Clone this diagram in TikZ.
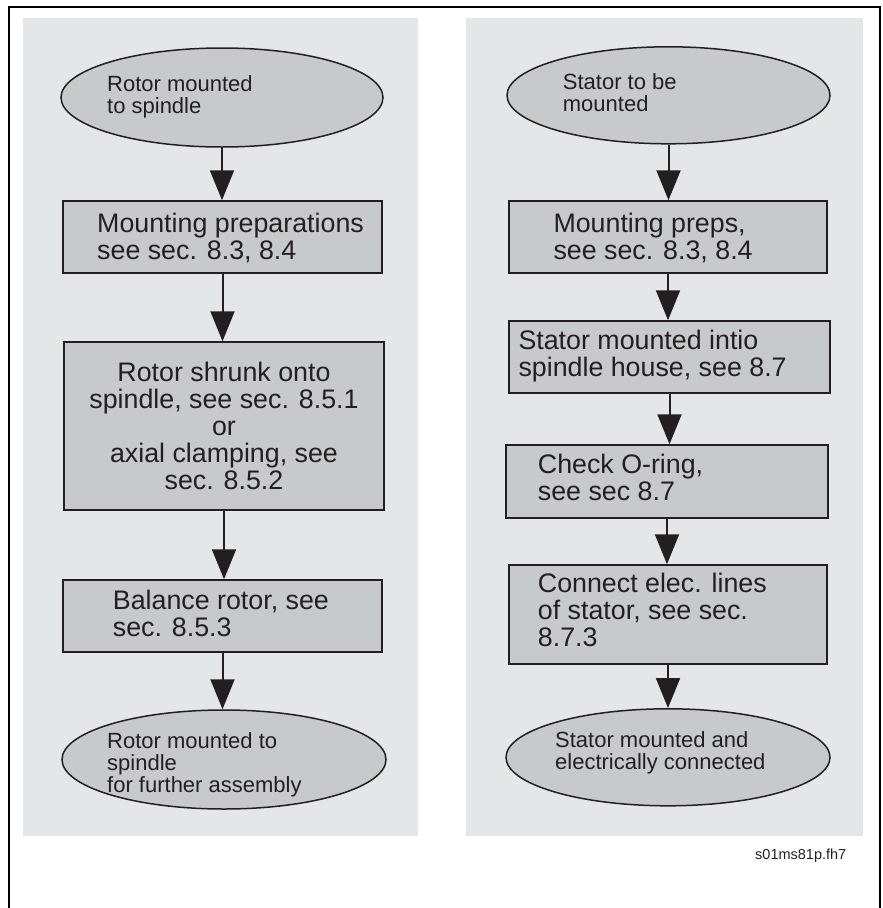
\documentclass[tikz,border=0pt]{standalone}
\usepackage{fontspec}
\setmainfont{Liberation Sans}
\usetikzlibrary{shapes.geometric,arrows.meta}
\definecolor{panel}{RGB}{229,230,232}
\definecolor{nodefill}{RGB}{200,201,203}
\definecolor{ink}{RGB}{35,31,32}
\newcommand{\tsB}{\rule{0pt}{24pt}}
\newcommand{\tsE}{\rule{0pt}{20pt}}
\begin{document}
\begin{tikzpicture}[x=1pt,y=-1pt,
  stepbox/.style={draw=ink, line width=1.5pt, fill=nodefill, inner sep=0pt, rectangle},
  term/.style={draw=ink, line width=1.5pt, fill=nodefill, inner sep=0pt, ellipse},
  boxtext/.style={inner sep=0pt, text=ink, align=left, anchor=north west, font=\fontsize{26.8}{27}\selectfont},
  elltext/.style={inner sep=0pt, text=ink, align=left, anchor=north west, font=\fontsize{22}{22}\selectfont},
  arr/.style={draw=ink, line width=2pt, -{Triangle[width=24pt,length=30pt]}}]
\useasboundingbox (0,0) rectangle (883,908);
% outer frame (open at the bottom)
\draw[black, line width=2pt] (9,910) -- (9,7) -- (880,7) -- (880,910);
% panels
\fill[panel] (23,18) rectangle (418,836);
\fill[panel] (466,18) rectangle (863,836);
% left column
\node[term, minimum width=322pt, minimum height=99pt] (e1) at (222,97.5) {};
\node[stepbox, minimum width=319pt, minimum height=72pt] (b1) at (222.5,237) {};
\node[stepbox, minimum width=320pt, minimum height=168pt] (b2) at (224,426) {};
\node[stepbox, minimum width=319pt, minimum height=72pt] (b3) at (222.5,616) {};
\node[term, minimum width=324pt, minimum height=99pt] (e2) at (224,759.5) {};
\node[elltext] (te1) at (107,71.7) {\tsE Rotor mounted\\to spindle};
\node[boxtext] (tb1) at (97,208) {\tsB Mounting preparations\\see sec. 8.3, 8.4};
\node[boxtext, align=center, anchor=north] (tb2) at (224,357.7) {\tsB Rotor shrunk onto\\spindle, see sec. 8.5.1\\or\\axial clamping, see\\sec. 8.5.2};
\node[boxtext] (tb3) at (112.7,585) {\tsB Balance rotor, see\\sec. 8.5.3};
\node[elltext] (te2) at (107,728.3) {\tsE Rotor mounted to\\spindle\\for further assembly};
% right column
\node[term, minimum width=323pt, minimum height=97pt] (e3) at (668.5,95.3) {};
\node[stepbox, minimum width=318pt, minimum height=72pt] (r1) at (668,237) {};
\node[stepbox, minimum width=321pt, minimum height=72pt] (r2) at (669.5,357) {};
\node[stepbox, minimum width=322pt, minimum height=73pt] (r3) at (667,481.5) {};
\node[stepbox, minimum width=318pt, minimum height=99pt] (r4) at (668,614.5) {};
\node[term, minimum width=324pt, minimum height=97pt] (e4) at (668,757.3) {};
\node[elltext] (te3) at (562.7,69.3) {\tsE Stator to be\\mounted};
\node[boxtext] (tr1) at (553.3,208.3) {\tsB Mounting preps,\\see sec. 8.3, 8.4};
\node[boxtext] (tr2) at (518.3,325) {\tsB Stator mounted intio\\spindle house, see 8.7};
\node[boxtext] (tr3) at (537.7,449.3) {\tsB Check O-ring,\\see sec 8.7};
\node[boxtext] (tr4) at (537.7,568.3) {\tsB Connect elec. lines\\of stator, see sec.\\8.7.3};
\node[elltext] (te4) at (555,727.3) {\tsE Stator mounted and\\electrically connected};
% arrows
\draw[arr] (e1.south) -- (e1.south |- b1.north);
\draw[arr] (b1.south) -- (b1.south |- b2.north);
\draw[arr] (b2.south) -- (b2.south |- b3.north);
\draw[arr] (b3.south) -- (b3.south |- e2.north);
\draw[arr] (e3.south) -- (e3.south |- r1.north);
\draw[arr] (r1.south) -- (r1.south |- r2.north);
\draw[arr] (r2.south) -- (r2.south |- r3.north);
\draw[arr] (r3.south) -- (r3.south |- r4.north);
\draw[arr] (r4.south) -- (r4.south |- e4.north);
% file label
\node[inner sep=0pt, anchor=base west, text=ink, font=\fontsize{14.5}{15}\selectfont] (lbl) at (755,859.3) {s01ms81p.fh7};
\end{tikzpicture}
\end{document}
